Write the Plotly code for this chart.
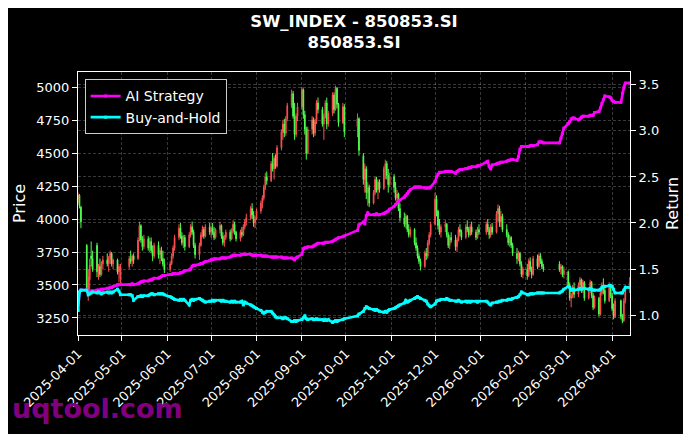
import pandas as pd
import plotly.graph_objects as go

# daily bars of SW index 850853.SI, Apr 2025 - Apr 2026 (one line per month)
holidays = ["2025-04-04", "2025-05-01", "2025-05-02", "2025-05-05", "2025-06-02",
            "2025-10-01", "2025-10-02", "2025-10-03", "2025-10-06", "2025-10-07", "2025-10-08",
            "2026-01-01", "2026-01-02", "2026-02-16", "2026-02-17", "2026-02-18", "2026-02-19",
            "2026-02-20", "2026-02-23", "2026-04-06"]

opens = [
    4150,4180,4090,3800,3470,3540,3720,3700,3800,3600,3640,3580,3660,3690,3660,3700,3740,3660,3690,3600,3550,
    3640,3700,3680,3720,3700,3850,3950,3840,3790,3850,3780,3830,3760,3720,3800,3730,3760,3700,3660,
    3620,3660,3720,3780,3860,3930,3870,3820,3860,3790,3880,3940,3900,3800,3730,3800,3880,3920,3870,3940,
    3900,3930,3900,3860,3920,3950,3870,3820,3860,3900,3850,3910,3960,3900,3850,3900,3880,3940,3980,4010,4080,4030,3970,
    4000,4060,4120,4160,4240,4320,4290,4420,4380,4460,4400,4540,4660,4720,4650,4760,4860,4950,4780,4640,4780,
    4850,4980,4790,4680,4500,4680,4750,4650,4740,4880,4830,4720,4780,4880,4720,4800,4940,4830,4990,4870,4730,4850,
    4700,4760,4480,4300,4380,4200,4240,4120,4200,4300,4220,4280,4230,4380,4420,4330,4260,
    4320,4240,4160,4190,4080,4010,3960,4020,3920,3880,3920,3820,3780,3720,3680,3640,3740,3720,3820,3880,
    3960,4150,4060,3950,3900,3940,3960,3880,3800,3860,3840,3790,3840,3920,3900,3860,3940,3920,3880,3940,3900,3860,3920,
    3900,3960,3920,3880,3940,3900,4040,4080,3980,4020,3920,3880,3820,3860,3800,3740,3700,3740,3660,3580,
    3620,3570,3680,3620,3580,3700,3640,3720,3680,3640,3660,3620,3640,3580,
    3600,3500,3400,3420,3480,3430,3500,3540,3460,3520,3400,3460,3520,3420,3330,3400,3280,3440,3500,3460,3380,3500,
    3420,3320,3260,3380,3260,3230,3380,3480,
]
highs = [
    4200,4190,4100,3810,3620,3700,3830,3760,3820,3660,3700,3680,3720,3740,3720,3760,3750,3700,3700,3660,3660,
    3720,3760,3730,3740,3860,3980,3960,3870,3880,3870,3860,3860,3800,3820,3830,3780,3790,3760,3700,
    3680,3740,3800,3880,3960,3970,3900,3880,3880,3900,3960,3980,3920,3820,3820,3900,3950,3940,3960,3970,
    3950,3970,3940,3930,3980,3960,3900,3880,3920,3920,3930,3990,3980,3910,3920,3940,3960,4000,4040,4100,4120,4060,4020,
    4080,4140,4180,4260,4350,4360,4440,4500,4480,4490,4560,4680,4750,4760,4780,4880,4980,4970,4880,4800,4880,
    5000,4990,4820,4700,4700,4780,4770,4760,4900,4920,4850,4800,4900,4920,4820,4960,4960,5010,5000,4880,4880,4870,
    4800,4770,4500,4420,4400,4280,4260,4220,4320,4320,4300,4300,4400,4450,4440,4380,4350,
    4340,4280,4220,4200,4120,4050,4040,4030,3960,3940,3930,3860,3800,3740,3700,3760,3780,3840,3900,3980,
    4200,4180,4070,4000,3960,3990,3970,3900,3880,3900,3880,3860,3940,3960,3920,3960,3990,3940,3960,3980,3920,3940,3960,
    3980,4000,3940,3960,3970,4060,4110,4100,4060,4040,3960,3900,3880,3870,3820,3780,3760,3750,3680,3640,
    3660,3700,3710,3640,3720,3730,3740,3740,3700,3660,3680,3660,3650,3640,
    3610,3520,3440,3500,3520,3520,3560,3550,3540,3530,3480,3540,3530,3440,3420,3410,3460,3520,3550,3480,3520,3510,
    3440,3360,3400,3390,3280,3400,3500,3560,
]
lows = [
    4120,4080,3930,3450,3380,3420,3640,3600,3560,3540,3560,3570,3620,3640,3600,3660,3640,3620,3580,3520,3510,
    3620,3660,3640,3660,3690,3830,3820,3760,3770,3760,3750,3740,3680,3700,3700,3660,3680,3640,3590,
    3600,3650,3700,3760,3840,3850,3800,3780,3760,3780,3860,3880,3780,3700,3690,3790,3860,3850,3860,3880,
    3860,3880,3840,3850,3890,3850,3800,3790,3840,3830,3840,3890,3880,3830,3830,3860,3870,3920,3950,3990,4000,3940,3930,
    3990,4040,4080,4140,4220,4260,4280,4360,4300,4380,4390,4520,4600,4620,4630,4740,4840,4760,4600,4620,4740,
    4830,4760,4640,4450,4490,4640,4620,4630,4720,4800,4700,4600,4760,4680,4700,4780,4800,4820,4840,4700,4720,4620,
    4620,4480,4260,4200,4150,4100,4090,4110,4180,4200,4150,4200,4220,4300,4300,4200,4240,
    4200,4140,4120,4060,3980,3940,3930,3900,3860,3860,3800,3760,3700,3660,3610,3630,3690,3700,3800,3860,
    3950,4020,3920,3880,3860,3900,3860,3780,3770,3820,3760,3750,3830,3870,3840,3850,3900,3860,3870,3880,3840,3850,3880,
    3880,3900,3850,3860,3880,3890,3980,3940,3940,3900,3860,3800,3790,3780,3720,3660,3680,3640,3560,3550,
    3540,3560,3600,3550,3570,3620,3630,3660,3620,3600,3600,3580,3560,3550,
    3480,3380,3330,3400,3400,3410,3460,3440,3440,3380,3390,3440,3400,3310,3320,3260,3270,3420,3430,3360,3370,3400,
    3300,3240,3250,3240,3210,3220,3360,3440,
]
closes = [
    4180,4100,3980,3480,3560,3650,3700,3620,3600,3640,3580,3660,3690,3660,3700,3740,3660,3690,3600,3640,3620,
    3700,3680,3720,3690,3840,3950,3840,3790,3850,3780,3830,3760,3720,3800,3730,3760,3700,3660,3620,
    3660,3720,3780,3860,3930,3870,3820,3860,3790,3880,3940,3900,3800,3730,3800,3880,3920,3870,3940,3900,
    3930,3900,3860,3920,3950,3870,3820,3860,3900,3850,3910,3960,3900,3850,3900,3880,3940,3980,4010,4080,4030,3970,4000,
    4060,4120,4160,4240,4320,4290,4420,4380,4460,4400,4540,4660,4720,4650,4760,4860,4950,4780,4640,4780,4850,
    4980,4790,4680,4500,4680,4750,4650,4740,4880,4830,4720,4780,4880,4720,4800,4940,4830,4990,4870,4730,4850,4660,
    4760,4520,4300,4380,4200,4240,4120,4200,4300,4220,4280,4230,4380,4420,4330,4260,4320,
    4240,4160,4190,4080,4010,3960,4020,3920,3880,3920,3820,3780,3720,3680,3640,3740,3720,3820,3880,3960,
    4150,4060,3950,3900,3940,3960,3880,3800,3860,3840,3790,3840,3920,3900,3860,3940,3920,3880,3940,3900,3860,3920,3900,
    3960,3920,3880,3940,3900,4040,4080,3980,4020,3920,3880,3820,3860,3800,3740,3700,3740,3660,3580,3620,
    3570,3680,3620,3580,3700,3640,3720,3680,3640,3620,3620,3640,3580,3610,
    3500,3400,3420,3480,3430,3500,3540,3460,3520,3400,3460,3520,3420,3330,3400,3280,3440,3500,3460,3380,3500,3420,
    3320,3260,3380,3260,3230,3380,3480,3520,
]

ai_strategy = [
    1.05,1.25,1.27,1.27,1.25,1.25,1.26,1.26,1.27,1.27,1.27,1.28,1.28,1.29,1.29,1.30,1.30,1.31,1.33,1.33,1.33,
    1.33,1.33,1.34,1.33,1.34,1.35,1.36,1.36,1.37,1.37,1.38,1.38,1.39,1.40,1.40,1.41,1.42,1.43,1.43,
    1.44,1.44,1.45,1.45,1.45,1.46,1.46,1.47,1.48,1.49,1.50,1.53,1.54,1.54,1.55,1.56,1.56,1.57,1.58,1.59,
    1.60,1.60,1.61,1.61,1.61,1.62,1.62,1.62,1.62,1.63,1.64,1.65,1.65,1.65,1.65,1.66,1.66,1.66,1.66,1.66,1.65,1.65,1.65,
    1.65,1.65,1.64,1.64,1.64,1.64,1.63,1.63,1.63,1.63,1.63,1.63,1.62,1.62,1.62,1.62,1.62,1.61,1.60,1.62,1.63,
    1.66,1.72,1.73,1.73,1.74,1.74,1.75,1.76,1.77,1.78,1.78,1.78,1.79,1.79,1.79,1.80,1.81,1.82,1.83,1.84,1.85,1.86,
    1.92,1.98,2.01,1.99,2.08,2.11,2.09,2.09,2.09,2.10,2.09,2.09,2.10,2.11,2.12,2.13,2.15,
    2.18,2.20,2.22,2.23,2.25,2.28,2.30,2.32,2.34,2.36,2.39,2.39,2.39,2.39,2.39,2.38,2.38,2.38,2.38,2.39,
    2.45,2.50,2.53,2.55,2.55,2.56,2.56,2.56,2.56,2.56,2.54,2.56,2.57,2.58,2.58,2.59,2.59,2.60,2.60,2.61,2.61,2.62,2.62,
    2.66,2.67,2.61,2.59,2.63,2.64,2.65,2.65,2.66,2.66,2.67,2.68,2.68,2.69,2.69,2.68,2.72,2.80,2.83,2.83,
    2.83,2.83,2.84,2.84,2.84,2.85,2.88,2.88,2.88,2.87,2.87,2.92,2.97,3.03,
    3.08,3.10,3.13,3.14,3.14,3.12,3.13,3.15,3.16,3.16,3.16,3.17,3.17,3.17,3.20,3.21,3.25,3.30,3.34,3.38,3.37,3.36,
    3.33,3.32,3.31,3.31,3.41,3.47,3.52,3.52,
]
buy_and_hold = [
    1.05,1.25,1.27,1.27,1.22,1.23,1.24,1.25,1.24,1.25,1.24,1.23,1.24,1.25,1.24,1.25,1.24,1.25,1.28,1.26,1.22,
    1.22,1.22,1.21,1.16,1.20,1.20,1.21,1.20,1.21,1.21,1.22,1.23,1.23,1.22,1.23,1.23,1.23,1.23,1.22,
    1.20,1.19,1.18,1.17,1.16,1.17,1.16,1.17,1.16,1.11,1.16,1.17,1.16,1.17,1.18,1.17,1.16,1.15,1.14,1.15,
    1.15,1.16,1.15,1.16,1.16,1.15,1.16,1.15,1.15,1.14,1.15,1.14,1.15,1.14,1.14,1.15,1.11,1.14,1.13,1.11,1.10,1.09,1.08,
    1.07,1.05,1.03,1.02,1.03,1.04,1.04,1.02,1.00,0.98,0.97,0.97,0.96,0.97,0.97,0.96,0.93,0.93,0.94,0.93,0.94,
    0.95,0.97,0.99,0.96,0.95,0.96,0.95,0.95,0.96,0.95,0.95,0.94,0.95,0.94,0.95,0.92,0.93,0.94,0.93,0.94,0.95,0.96,
    0.99,1.01,1.04,1.07,1.09,1.08,1.07,1.06,1.05,1.06,1.05,1.04,1.03,1.04,1.03,1.05,1.06,
    1.07,1.08,1.09,1.10,1.11,1.13,1.16,1.14,1.15,1.16,1.18,1.19,1.20,1.19,1.18,1.16,1.15,1.12,1.10,1.09,
    1.12,1.15,1.16,1.16,1.17,1.17,1.18,1.17,1.16,1.16,1.15,1.15,1.16,1.15,1.14,1.15,1.14,1.15,1.14,1.15,1.15,1.14,1.15,
    1.15,1.14,1.12,1.11,1.13,1.14,1.14,1.15,1.15,1.16,1.16,1.17,1.17,1.17,1.18,1.19,1.20,1.22,1.25,1.24,
    1.22,1.22,1.23,1.23,1.23,1.24,1.24,1.24,1.24,1.24,1.24,1.25,1.26,1.28,
    1.31,1.30,1.27,1.28,1.27,1.28,1.29,1.28,1.29,1.29,1.28,1.29,1.28,1.27,1.27,1.27,1.28,1.30,1.31,1.31,1.32,1.32,
    1.31,1.28,1.24,1.24,1.24,1.27,1.30,1.30,
]

price_ticks = [3250, 3500, 3750, 4000, 4250, 4500, 4750, 5000]
return_ticks = [1.0, 1.5, 2.0, 2.5, 3.0, 3.5]
month_ticks = ["2025-04-01", "2025-05-01", "2025-06-01", "2025-07-01", "2025-08-01", "2025-09-01",
               "2025-10-01", "2025-11-01", "2025-12-01", "2026-01-01", "2026-02-01", "2026-03-01",
               "2026-04-01"]

dates = pd.bdate_range("2025-04-01", "2026-04-13")
dates = dates[~dates.isin(pd.to_datetime(holidays))]
for arr in (opens, highs, lows, closes, ai_strategy, buy_and_hold):
    if len(arr) != len(dates):
        raise ValueError("length %d != %d" % (len(arr), len(dates)))

RED = "#ff4f4f"
GREEN = "#4fff4f"
FONT = "DejaVu Sans"
GRID = "rgba(255,255,255,0.22)"
DASH = "3px,2px"

# the page body adds an 8px offset, so the figure is 8px smaller than the window
W, H = 683, 426

fig = go.Figure()
fig.add_trace(go.Candlestick(
    x=dates, open=opens, high=highs, low=lows, close=closes,
    increasing=dict(line=dict(color=RED, width=1), fillcolor=RED),
    decreasing=dict(line=dict(color=GREEN, width=1), fillcolor=GREEN),
    showlegend=False, yaxis="y",
))
fig.add_trace(go.Scatter(
    x=dates, y=ai_strategy, name="AI Strategy", mode="lines+markers",
    line=dict(color="#ff00ff", width=2.6), marker=dict(size=3, symbol="square"),
    yaxis="y2",
))
fig.add_trace(go.Scatter(
    x=dates, y=buy_and_hold, name="Buy-and-Hold", mode="lines+markers",
    line=dict(color="#00ffff", width=2.6), marker=dict(size=3, symbol="square"),
    yaxis="y2",
))

fig.update_layout(
    width=W, height=H,
    margin=dict(l=70, r=61, t=64, b=99, autoexpand=False),
    paper_bgcolor="black", plot_bgcolor="black",
    font=dict(family=FONT, color="white", size=13),
    title=dict(text="<b>SW_INDEX - 850853.SI<br>850853.SI</b>",
               font=dict(size=16.5, color="white"),
               x=0.5, xref="paper", xanchor="center",
               y=1 - 19 / H, yref="container", yanchor="middle",
               automargin=False),
    xaxis=dict(
        type="date", range=["2025-04-01", "2026-04-13 05:00"],
        rangeslider=dict(visible=False), automargin=False,
        tickvals=month_ticks, ticktext=month_ticks, tickangle=-45,
        tickfont=dict(size=13),
        showline=True, mirror=True, linecolor="white", linewidth=1,
        ticks="outside", ticklen=5, tickcolor="white",
        showgrid=True, gridcolor=GRID, griddash=DASH, gridwidth=0.6,
        zeroline=False,
    ),
    yaxis=dict(
        range=[3121, 5114], tickvals=price_ticks, automargin=False,
        title=dict(text="Price", standoff=6),
        showline=True, linecolor="white", linewidth=1,
        ticks="outside", ticklen=5, tickcolor="white",
        showgrid=True, gridcolor=GRID, griddash=DASH, gridwidth=0.6,
        zeroline=False,
    ),
    yaxis2=dict(
        overlaying="y", side="right", automargin=False,
        range=[0.783, 3.64], tickvals=return_ticks, tickformat=".1f",
        title=dict(text="Return", standoff=8),
        showline=True, linecolor="white", linewidth=1,
        ticks="outside", ticklen=5, tickcolor="white",
        showgrid=True, gridcolor=GRID, griddash=DASH, gridwidth=0.6,
        zeroline=False,
    ),
    legend=dict(x=0.012, y=0.972, xanchor="left", yanchor="top",
                bgcolor="black", bordercolor="#cccccc", borderwidth=1,
                font=dict(size=14, color="white")),
    annotations=[dict(text="<b>uqtool.com</b>", xref="paper", yref="paper",
                      x=-0.123, y=-0.278, xanchor="left", yanchor="middle",
                      showarrow=False, font=dict(size=27, color="#800080"))],
)

fig.write_html("out.html")
